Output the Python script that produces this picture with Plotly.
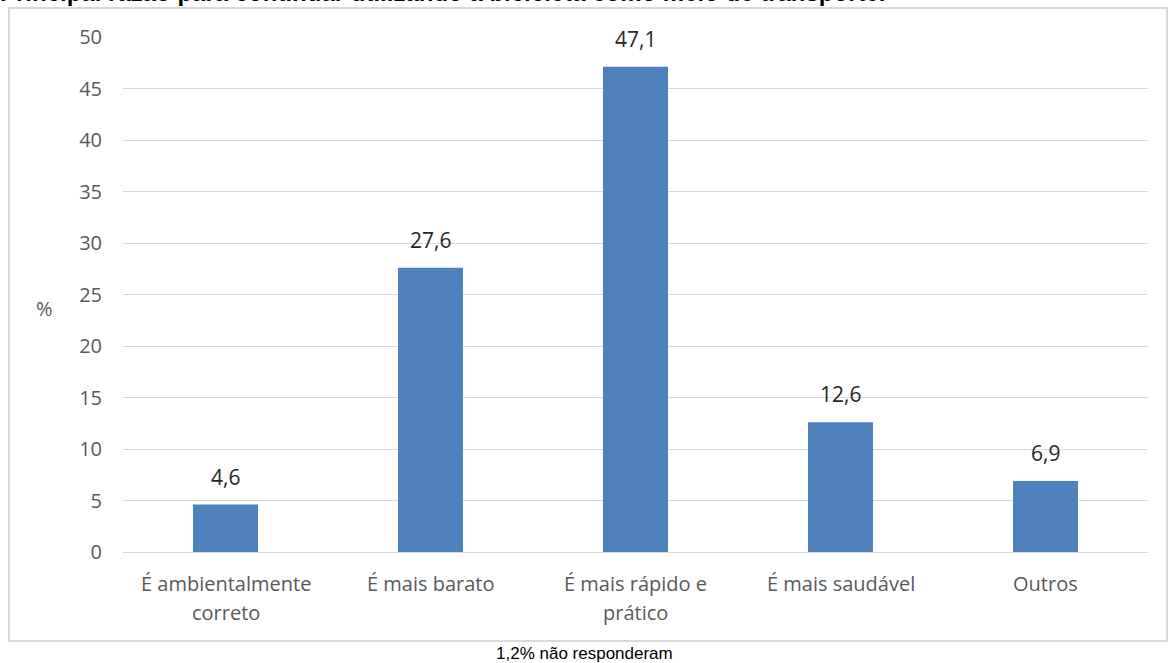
import plotly.graph_objects as go

# ---- data ----
categories = ["É ambientalmente correto", "É mais barato", "É mais rápido e prático",
              "É mais saudável", "Outros"]
label_lines = [["É ambientalmente", "correto"], ["É mais barato"], ["É mais rápido e", "prático"],
               ["É mais saudável"], ["Outros"]]
values = [4.6, 27.6, 47.1, 12.6, 6.9]
value_labels = ["4,6", "27,6", "47,1", "12,6", "6,9"]
y_ticks = [0, 5, 10, 15, 20, 25, 30, 35, 40, 45, 50]
title_text = "Principal razão para continuar utilizando a bicicleta como meio de transporte."
note_text = "1,2% não responderam"

W, H = 1169, 663
L, R, T, B = 123, 21, 37, 111
PW, PH = W - L - R, H - T - B


def px_x(p):
    return (p - L) / PW


def px_y(p):
    return (H - B - p) / PH


TICK_FONT = dict(family="Open Sans", size=20, color="#595959")

fig = go.Figure()
fig.add_trace(go.Bar(
    x=categories, y=values, width=0.317,
    marker=dict(color="#4F81BD", line=dict(width=0)),
    hoverinfo="x+y",
))

annotations = []
# data labels
for c, v, t in zip(categories, values, value_labels):
    annotations.append(dict(x=c, y=v, xref="x", yref="y", text=t, showarrow=False,
                            yanchor="bottom", yshift=12,
                            font=dict(family="Open Sans", size=21, color="#262626")))
# category labels
for c, lines in zip(categories, label_lines):
    for i, ln in enumerate(lines):
        annotations.append(dict(x=c, y=px_y(583 + 29 * i), xref="x", yref="paper", text=ln,
                                showarrow=False, yanchor="middle", font=TICK_FONT))
# axis title
annotations.append(dict(x=px_x(44), y=px_y(308), xref="paper", yref="paper", text="%",
                        showarrow=False, xanchor="center", yanchor="middle", font=TICK_FONT))
# title (partially cut at top)
annotations.append(dict(x=px_x(-2), y=px_y(8), xref="paper", yref="paper", text="<b>" + title_text + "</b>",
                        showarrow=False, xanchor="left", yanchor="bottom",
                        font=dict(family="Arial", size=24, color="#000000")))
# footnote
annotations.append(dict(x=px_x(584), y=px_y(653), xref="paper", yref="paper", text=note_text,
                        showarrow=False, xanchor="center", yanchor="middle",
                        font=dict(family="Arial", size=17, color="#000000")))

fig.update_layout(
    width=W, height=H,
    margin=dict(l=L, r=R, t=T, b=B, pad=0),
    plot_bgcolor="white", paper_bgcolor="white",
    showlegend=False,
    annotations=annotations,
    shapes=[dict(type="rect", xref="paper", yref="paper",
                 x0=px_x(9), x1=px_x(1167), y0=px_y(641), y1=px_y(8),
                 line=dict(color="#D9D9D9", width=2), fillcolor="rgba(0,0,0,0)", layer="below")],
)
fig.update_xaxes(range=[-0.5, 4.5], showticklabels=False, showgrid=False, showline=False,
                 zeroline=False, ticks="")
fig.update_yaxes(range=[0, 50], tickvals=y_ticks, ticktext=[str(t) for t in y_ticks],
                 showgrid=True, gridcolor="#D9D9D9", gridwidth=1, zeroline=True,
                 zerolinecolor="#D9D9D9", zerolinewidth=1, showline=False, ticks="",
                 tickfont=TICK_FONT, ticklabelstandoff=20)

fig.write_html("out.html", config={"displayModeBar": False},
               post_script="document.body.style.margin='0';document.body.style.overflow='hidden';")
